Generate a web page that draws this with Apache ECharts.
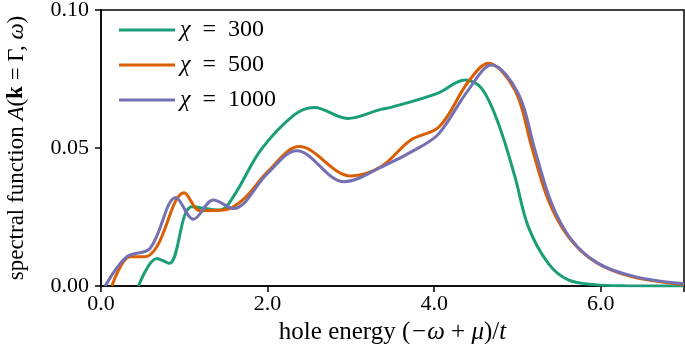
<!DOCTYPE html>
<html><head><meta charset="utf-8">
<script src="https://cdn.jsdelivr.net/npm/echarts@6/dist/echarts.min.js"></script>
<style>html,body{margin:0;padding:0;background:#fff}#c{width:685px;height:344px}</style>
</head><body><div id="c"></div>
<script>
const seriesNames = ['300', '500', '1000'];
const xTicks = [0, 2, 4, 6];
const yTicks = [0, 0.05, 0.10];
const x300 = [0.45, 0.67, 0.82, 1.09, 1.43, 1.59, 1.92, 2.32, 2.56, 2.96, 3.36, 3.48, 4.04, 4.37, 4.57, 4.77, 4.97, 5.13, 5.37, 5.61, 5.93, 6.3, 7.0];
const y300 = [0, 0.0100, 0.0082, 0.0287, 0.0275, 0.0324, 0.0493, 0.0620, 0.0647, 0.0607, 0.0640, 0.0647, 0.0698, 0.0746, 0.0716, 0.0590, 0.0396, 0.0215, 0.0082, 0.0022, 0.0005, 0.0001, 0];
const x500 = [0.13, 0.35, 0.53, 0.67, 1.00, 1.19, 1.47, 1.71, 2.00, 2.38, 3.00, 3.36, 3.72, 4.06, 4.41, 4.65, 4.97, 5.17, 5.37, 5.61, 5.93, 6.37, 7.0];
const y500 = [0, 0.0106, 0.0106, 0.0142, 0.0338, 0.0273, 0.0275, 0.0314, 0.0414, 0.0505, 0.0399, 0.0432, 0.0529, 0.0577, 0.0740, 0.0807, 0.0710, 0.0505, 0.0312, 0.0179, 0.0088, 0.0034, 0.0005];
const x1000 = [0.05, 0.31, 0.59, 0.90, 1.11, 1.35, 1.59, 2.00, 2.35, 2.92, 3.36, 3.84, 4.06, 4.41, 4.69, 5.01, 5.21, 5.41, 5.65, 5.97, 6.41, 7.0];
const y1000 = [0, 0.0106, 0.0137, 0.0321, 0.0242, 0.0312, 0.0281, 0.0408, 0.0490, 0.0378, 0.0430, 0.0505, 0.0553, 0.0710, 0.0801, 0.0698, 0.0493, 0.0300, 0.0167, 0.0082, 0.0034, 0.0008];
const colors = ['#1b9e77', '#d95f02', '#7570b3'];

const zip = (xs, ys) => xs.map((x, i) => [x, ys[i]]);
const dataSets = [zip(x300, y300), zip(x500, y500), zip(x1000, y1000)];
const FONT = '"Liberation Serif", "DejaVu Serif", serif';
const TS = 23;

const chart = echarts.init(document.getElementById('c'), null, {renderer: 'canvas'});
chart.setOption({
  animation: false,
  textStyle: {fontFamily: FONT},
  grid: {left: 101, right: 1, top: 10, bottom: 58, show: true, borderColor: '#000', borderWidth: 1.5,
    backgroundColor: 'transparent', containLabel: false, outerBoundsMode: 'none'},
  legend: {
    orient: 'vertical', left: 114, top: 13, itemGap: 11,
    icon: 'rect', itemWidth: 56, itemHeight: 3,
    data: seriesNames.map(n => 'χ = ' + n),
    formatter: name => '{i|χ}  =  ' + name.split('= ')[1],
    textStyle: {fontFamily: FONT, fontSize: 24, color: '#000', padding: [0, 0, 0, 0],
      rich: {i: {fontFamily: FONT, fontStyle: 'italic', fontSize: 24}}}
  },
  xAxis: {
    type: 'value', min: 0, max: 7, interval: 2,
    axisLine: {show: true, lineStyle: {color: '#000', width: 1.5}},
    axisTick: {show: true, length: 6, inside: false, lineStyle: {color: '#000', width: 1.5}},
    splitLine: {show: false},
    axisLabel: {fontFamily: FONT, fontSize: 22, color: '#000', margin: 7,
      formatter: v => xTicks.includes(v) ? v.toFixed(1) : ''},
    name: '{n|hole energy (}{i|−ω}{n| + }{i|μ}{n|)/}{i|t}',
    nameLocation: 'middle', nameGap: 33,
    nameTextStyle: {rich: {
      n: {fontFamily: FONT, fontSize: 25, color: '#000'},
      i: {fontFamily: FONT, fontSize: 25, fontStyle: 'italic', color: '#000'}}}
  },
  yAxis: {
    type: 'value', min: 0, max: 0.10, interval: 0.05,
    axisLine: {show: true, lineStyle: {color: '#000', width: 1.5}},
    axisTick: {show: true, length: 6, lineStyle: {color: '#000', width: 1.5}},
    splitLine: {show: false},
    axisLabel: {fontFamily: FONT, fontSize: 22, color: '#000', margin: 12,
      formatter: v => v.toFixed(2)},
    name: '{n|spectral function }{i|A}{n|(}{b|k}{n| = Γ, }{i|ω}{n|)}',
    nameLocation: 'middle', nameGap: 73, nameRotate: 90,
    nameTextStyle: {rich: {
      n: {fontFamily: FONT, fontSize: TS, color: '#000'},
      i: {fontFamily: FONT, fontSize: TS, fontStyle: 'italic', color: '#000'},
      b: {fontFamily: FONT, fontSize: TS, fontWeight: 'bold', color: '#000'}}}
  },
  series: dataSets.map((d, i) => ({
    name: 'χ = ' + seriesNames[i], type: 'line', data: d, smooth: 0.35,
    showSymbol: false, symbol: 'none', clip: true,
    lineStyle: {color: colors[i], width: 3}, itemStyle: {color: colors[i]}
  }))
});
</script></body></html>
